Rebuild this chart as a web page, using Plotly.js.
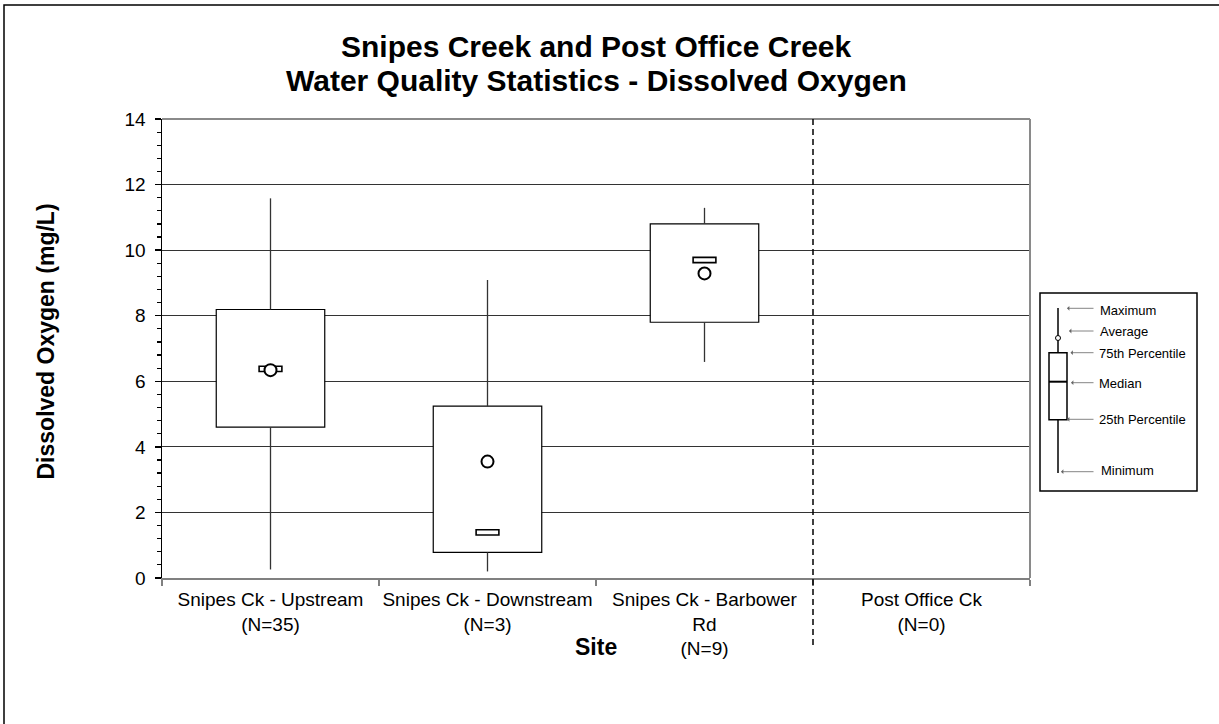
<!DOCTYPE html>
<html>
<head>
<meta charset="utf-8">
<script src="https://cdn.plot.ly/plotly-3.0.1.min.js"></script>
<style>html,body{margin:0;padding:0;background:#fff;}#chart{width:1219px;height:724px;}</style>
</head>
<body>
<div id="chart"></div>
<script>
// ---- Data ----
const categories = ['Snipes Ck - Upstream<br>(N=35)', 'Snipes Ck - Downstream<br>(N=3)', 'Snipes Ck - Barbower<br>Rd<br>(N=9)', 'Post Office Ck<br>(N=0)'];
const maxVals    = [11.58, 9.09, 11.29, null];
const q3Vals     = [8.19, 5.24, 10.80, null];
const medianVals = [6.38, 1.39, 9.70, null];
const meanVals   = [6.34, 3.55, 9.29, null];
const q1Vals     = [4.60, 0.78, 7.80, null];
const minVals    = [0.26, 0.20, 6.59, null];
const yTickVals  = [0, 2, 4, 6, 8, 10, 12, 14];
const titleLines = ['Snipes Creek and Post Office Creek', 'Water Quality Statistics - Dissolved Oxygen'];
const legendLabels = ['Maximum', 'Average', '75th Percentile', 'Median', '25th Percentile', 'Minimum'];

// ---- Layout helpers (pixel -> paper) ----
const W = 1219, H = 724, L = 162, R = 189, T = 119, B = 146;
const PW = W - L - R, PH = H - T - B;
const px = x => (x - L) / PW;
const py = y => (H - B - y) / PH;
const FONT = 'Arial, "Liberation Sans", sans-serif';

const xs = categories.map((c, i) => i);

// whiskers: q3->max and q1->min
const wx = [], wy = [];
xs.forEach(i => {
  if (maxVals[i] == null) return;
  wx.push(i, i, null, i, i, null);
  wy.push(q3Vals[i], maxVals[i], null, q1Vals[i], minVals[i], null);
});

const medH = 0.16; // visual thickness of median marker in data units
const traces = [
  {
    type: 'bar', x: xs, base: q1Vals,
    y: xs.map(i => q3Vals[i] == null ? null : q3Vals[i] - q1Vals[i]),
    width: 0.5, marker: {color: '#fff', line: {color: '#000', width: 1.2}},
    hoverinfo: 'skip', showlegend: false
  },
  {
    type: 'bar', x: xs, base: medianVals.map(v => v == null ? null : v - medH / 2),
    y: medianVals.map(v => v == null ? null : medH),
    width: 0.105, marker: {color: '#fff', line: {color: '#000', width: 1.6}},
    hoverinfo: 'skip', showlegend: false
  },
  {
    type: 'scatter', mode: 'lines', x: wx, y: wy,
    line: {color: '#333', width: 1.3}, hoverinfo: 'skip', showlegend: false
  },
  {
    type: 'scatter', mode: 'markers', x: xs, y: meanVals,
    marker: {symbol: 'circle', size: 12, color: '#fff', line: {color: '#000', width: 2}},
    hoverinfo: 'skip', showlegend: false
  }
];

// ---- Shapes ----
const shapes = [
  // outer chart border (right/bottom lie beyond the picture)
  {type: 'rect', xref: 'paper', yref: 'paper', x0: px(4), x1: px(1240), y0: py(740), y1: py(5),
   line: {color: '#000', width: 1.5}, fillcolor: 'rgba(0,0,0,0)', layer: 'below'},
  // top & right plot border
  {type: 'line', xref: 'paper', yref: 'paper', x0: 0, x1: 1, y0: 1, y1: 1, line: {color: '#8a8a8a', width: 2}},
  {type: 'line', xref: 'paper', yref: 'paper', x0: 1, x1: 1, y0: 0, y1: 1, line: {color: '#8a8a8a', width: 2}},
  // dashed separator
  {type: 'line', xref: 'x', yref: 'paper', x0: 2.5, x1: 2.5, y0: py(645), y1: 1,
   line: {color: '#000', width: 1.5, dash: '6px,4px'}},
  // legend box
  {type: 'rect', xref: 'paper', yref: 'paper', x0: px(1040), x1: px(1197), y0: py(491), y1: py(293),
   line: {color: '#000', width: 1.5}, fillcolor: '#fff'},
  // legend whisker
  {type: 'line', xref: 'paper', yref: 'paper', x0: px(1058), x1: px(1058), y0: py(473), y1: py(308),
   line: {color: '#000', width: 1.5}},
  // legend box
  {type: 'rect', xref: 'paper', yref: 'paper', x0: px(1049), x1: px(1067), y0: py(419.7), y1: py(352.7),
   line: {color: '#000', width: 1.5}, fillcolor: '#fff'},
  // legend median
  {type: 'line', xref: 'paper', yref: 'paper', x0: px(1049), x1: px(1067), y0: py(381.7), y1: py(381.7),
   line: {color: '#000', width: 2}},
  // legend average dot
  {type: 'circle', xref: 'paper', yref: 'paper', x0: px(1055.5), x1: px(1060.5), y0: py(340.5), y1: py(335.5),
   line: {color: '#000', width: 1}, fillcolor: '#fff'}
];

// ---- Annotations ----
const legendY = [310, 331.5, 353.3, 383.5, 419.3, 470.5];
const legendTextX = [1098, 1098, 1097, 1097, 1097, 1099];
const arrowHeadX = [1067, 1069, 1070.5, 1071, 1067, 1061];
const arrowY = [308.3, 331, 352.7, 382.7, 419.3, 471.7];
const annotations = [];
legendLabels.forEach((t, i) => {
  annotations.push({xref: 'paper', yref: 'paper', x: px(legendTextX[i]), y: py(legendY[i]),
    xanchor: 'left', yanchor: 'middle', text: t, showarrow: false,
    font: {family: FONT, size: 13, color: '#000'}});
  annotations.push({xref: 'paper', yref: 'paper', x: px(arrowHeadX[i]), y: py(arrowY[i]),
    text: '', showarrow: true, ax: 1095 - arrowHeadX[i], ay: 0,
    arrowhead: 1, arrowsize: 1, arrowwidth: 0.8, arrowcolor: '#666', standoff: 0});
});
// two-line chart title
annotations.push({xref: 'paper', yref: 'paper', x: px(596), y: py(47), xanchor: 'center', yanchor: 'middle',
  showarrow: false, text: '<b>' + titleLines[0] + '</b>', font: {family: FONT, size: 30, color: '#000'}});
annotations.push({xref: 'paper', yref: 'paper', x: px(596), y: py(80), xanchor: 'center', yanchor: 'middle',
  showarrow: false, text: '<b>' + titleLines[1] + '</b>', font: {family: FONT, size: 30, color: '#000'}});
// axis titles
annotations.push({xref: 'paper', yref: 'paper', x: px(45), y: py(341.5), textangle: -90,
  xanchor: 'center', yanchor: 'middle', showarrow: false,
  text: '<b>Dissolved Oxygen (mg/L)</b>', font: {family: FONT, size: 23, color: '#000'}});
annotations.push({xref: 'paper', yref: 'paper', x: px(596), y: py(647),
  xanchor: 'center', yanchor: 'middle', showarrow: false,
  text: '<b>Site</b>', font: {family: FONT, size: 23, color: '#000'}});

const layout = {
  width: W, height: H, autosize: false,
  margin: {l: L, r: R, t: T, b: B, pad: 0},
  paper_bgcolor: '#fff', plot_bgcolor: '#fff',
  barmode: 'overlay', showlegend: false,
  xaxis: {
    type: 'linear', range: [-0.5, 3.5], tickmode: 'array', tickvals: xs, ticktext: categories,
    ticks: '', showgrid: false, zeroline: false,
    showline: true, linecolor: '#808080', linewidth: 2,
    tickfont: {family: FONT, size: 19, color: '#000'}, ticklabelstandoff: 3,
    minor: {tickmode: 'array', tickvals: [-0.5, 0.5, 1.5, 2.5, 3.5], ticks: 'outside', ticklen: 6, tickwidth: 1.5, tickcolor: '#808080', showgrid: false},
    fixedrange: true
  },
  yaxis: {
    range: [0, 14], tickmode: 'array', tickvals: yTickVals,
    ticks: 'outside', ticklen: 6, tickwidth: 1.3, tickcolor: '#000',
    showgrid: true, gridcolor: '#333', gridwidth: 1, zeroline: false,
    showline: true, linecolor: '#000', linewidth: 1.5,
    tickfont: {family: FONT, size: 19, color: '#000'}, ticklabelstandoff: 5,
    minor: {dtick: 0.4, tick0: 0, ticks: 'outside', ticklen: 4, tickwidth: 1.2, tickcolor: '#000', showgrid: false},
    fixedrange: true
  },
  shapes: shapes,
  annotations: annotations
};

Plotly.newPlot('chart', traces, layout, {displayModeBar: false, staticPlot: true});
</script>
</body>
</html>
